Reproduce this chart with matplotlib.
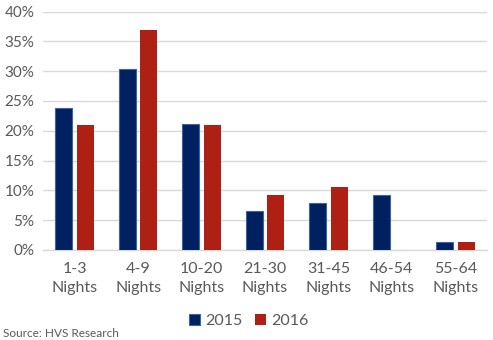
import numpy as np
import matplotlib.pyplot as plt
from matplotlib.ticker import PercentFormatter

# ── Data ──────────────────────────────────────────────────────────────────────
categories = ["1-3\nNights", "4-9\nNights", "10-20\nNights", "21-30\nNights",
              "31-45\nNights", "46-54\nNights", "55-64\nNights"]
share_2015 = [23.8, 30.3, 21.1, 6.5, 7.8, 9.2, 1.3]
share_2016 = [20.9, 36.9, 20.9, 9.2, 10.5, 0.0, 1.3]
yticks     = [0, 5, 10, 15, 20, 25, 30, 35, 40]

navy  = "#002060"
red   = "#AE1F14"
grey  = "#595959"

plt.rcParams["font.family"] = ["Lato", "DejaVu Sans"]

fig = plt.figure(figsize=(4.93, 3.40), dpi=100)
ax = fig.add_axes([0.087, 0.265, 0.901, 0.701])

x = np.arange(len(categories))
w = 0.27
gap = 0.035
ax.bar(x - w / 2 - gap, share_2015, width=w, color=navy, edgecolor="#3B64A8",
       linewidth=0.8, label="2015", zorder=3)
ax.bar(x + w / 2 + gap, share_2016, width=w, color=red, linewidth=0,
       label="2016", zorder=3)

ax.set_xlim(-0.5, len(categories) - 0.5)
ax.set_ylim(0, 40)
ax.set_yticks(yticks)
ax.yaxis.set_major_formatter(PercentFormatter(decimals=0))
ax.set_xticks(x)
ax.set_xticklabels(categories, linespacing=1.45)
ax.tick_params(axis="both", length=0, colors=grey, labelsize=11)
ax.tick_params(axis="x", pad=9, labelsize=11.5)
ax.tick_params(axis="y", pad=6)
ax.grid(True, axis="y", color="#D9D9D9", linewidth=1, zorder=0)
for s in ["top", "right", "left"]:
    ax.spines[s].set_visible(False)
ax.spines["bottom"].set_color("#D9D9D9")
ax.spines["bottom"].set_linewidth(1)

fig.legend(loc="center", bbox_to_anchor=(0.505, 0.055), ncol=2, frameon=False,
           fontsize=11.5, labelcolor=grey, handlelength=0.7, handleheight=0.7,
           handletextpad=0.3, columnspacing=0.8)
fig.text(0.006, 0.018, "Source: HVS Research", fontsize=8.5, color=grey,
         ha="left", va="center")

fig.savefig("out.png", dpi=100)
